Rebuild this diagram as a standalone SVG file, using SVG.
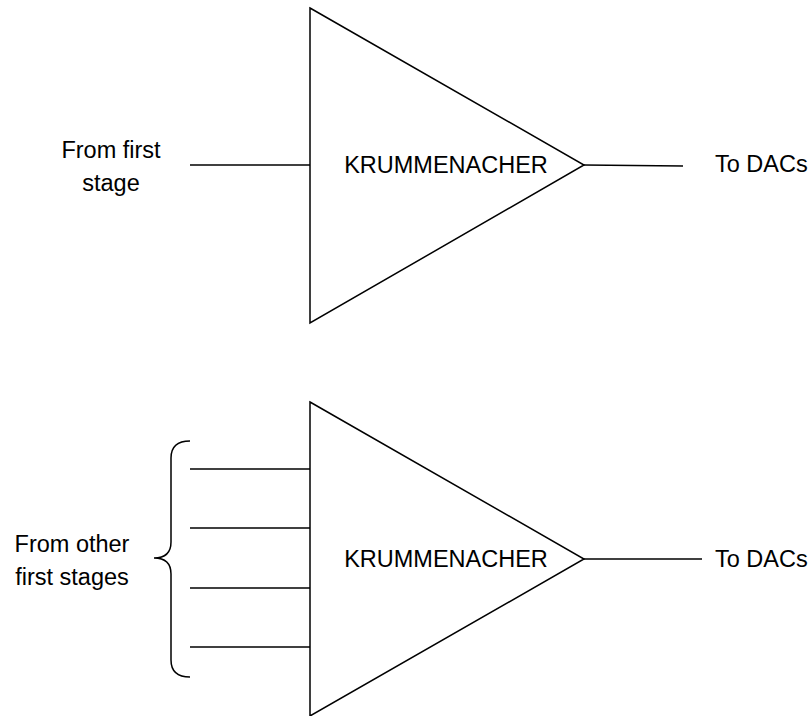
<svg xmlns="http://www.w3.org/2000/svg" width="810" height="716" viewBox="0 0 810 716">
<style>
.s{fill:none;stroke:#000;stroke-width:1.5}
.t{font-family:"Liberation Sans",Arial,sans-serif;font-size:23.5px;fill:#000}
</style>
<rect width="810" height="716" fill="#fff"/>
<g id="amp1">
<polygon class="s" points="310,8 584,165 310,323"/>
<text class="t" x="446" y="173" text-anchor="middle">KRUMMENACHER</text>
</g>
<g id="amp2">
<polygon class="s" points="310,402 584,559 310,716"/>
<text class="t" x="446" y="567" text-anchor="middle">KRUMMENACHER</text>
</g>
<g id="labels">
<text class="t" x="111" y="158" text-anchor="middle">From first</text>
<text class="t" x="111" y="191" text-anchor="middle">stage</text>
<text class="t" x="715" y="172">To DACs</text>
<text class="t" x="72" y="552" text-anchor="middle">From other</text>
<text class="t" x="72" y="585" text-anchor="middle">first stages</text>
<text class="t" x="715" y="567">To DACs</text>
</g>
<g id="connectors">
<line class="s" x1="190" y1="165" x2="310" y2="165"/>
<line class="s" x1="584" y1="165" x2="683" y2="166"/>
<line class="s" x1="190" y1="469" x2="310" y2="469"/>
<line class="s" x1="190" y1="528" x2="310" y2="528"/>
<line class="s" x1="190" y1="588" x2="310" y2="588"/>
<line class="s" x1="190" y1="647" x2="310" y2="647"/>
<line class="s" x1="584" y1="559" x2="702" y2="559"/>
<path class="s" d="M190,441 Q171,441 171,458 L171,542 Q171,558 154,558 Q171,558 171,574 L171,660 Q171,677 190,677"/>
</g>
</svg>
